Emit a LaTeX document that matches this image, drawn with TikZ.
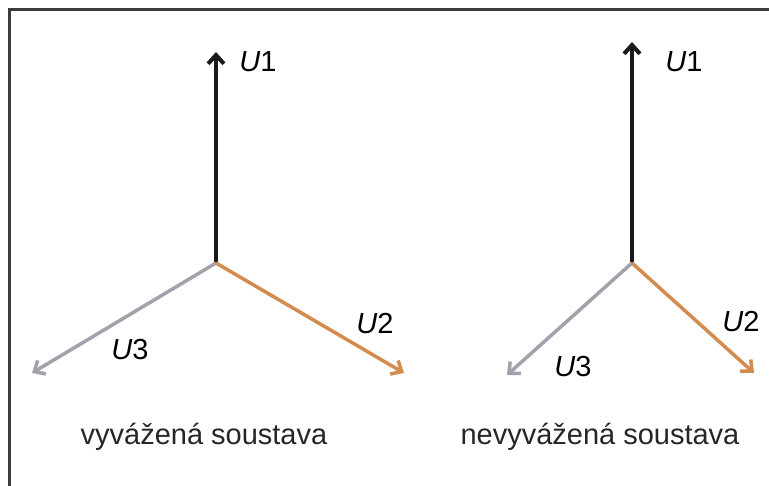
\documentclass[tikz,border=0pt]{standalone}
\usepackage{fontspec}
\setmainfont{Liberation Sans}
\usepackage{tikz}
\usetikzlibrary{arrows.meta}
\definecolor{phaseone}{RGB}{25,25,25}
\definecolor{phasetwo}{RGB}{212,140,78}
\definecolor{phasethree}{RGB}{162,162,172}
\definecolor{framegray}{RGB}{60,60,60}

\begin{document}
\begin{tikzpicture}[x=0.02cm,y=-0.02cm,>={Straight Barb[length=5pt,width=9pt]},
  phasor/.style={->,line width=2pt},
  vlabel/.style={font=\fontsize{16.5}{19}\selectfont,inner sep=1pt},
  caption/.style={font=\fontsize{16.5}{20}\selectfont,text=black!85}]
\useasboundingbox (0,0) rectangle (769,486);
\draw[framegray,line width=1.2pt] (9.5,486) -- (9.5,9.5) -- (769,9.5);
% balanced system
\coordinate (o1) at (216,263);
\coordinate (a1) at (216,52);
\coordinate (b1) at (404,373);
\coordinate (c1) at (32,373);
\draw[phasor,phaseone,line width=2.3pt] (o1) -- (a1);
\draw[phasor,phasetwo] (o1) -- (b1);
\draw[phasor,phasethree] (o1) -- (c1);
\node[vlabel] (u1a) at (258,62) {\itshape U\upshape 1};
\node[vlabel] (u2a) at (375,324) {\itshape U\upshape 2};
\node[vlabel] (u3a) at (130,350) {\itshape U\upshape 3};
\node[caption] (capa) at (204,437) {vyvážená soustava};
% unbalanced system
\coordinate (o2) at (632,263);
\coordinate (a2) at (632,42);
\coordinate (b2) at (754,373);
\coordinate (c2) at (507,375);
\draw[phasor,phaseone,line width=2.3pt] (o2) -- (a2);
\draw[phasor,phasetwo] (o2) -- (b2);
\draw[phasor,phasethree] (o2) -- (c2);
\node[vlabel] (u1b) at (684,62) {\itshape U\upshape 1};
\node[vlabel] (u2b) at (741,322) {\itshape U\upshape 2};
\node[vlabel] (u3b) at (573,367) {\itshape U\upshape 3};
\node[caption] (capb) at (600,437) {nevyvážená soustava};
\end{tikzpicture}
\end{document}
